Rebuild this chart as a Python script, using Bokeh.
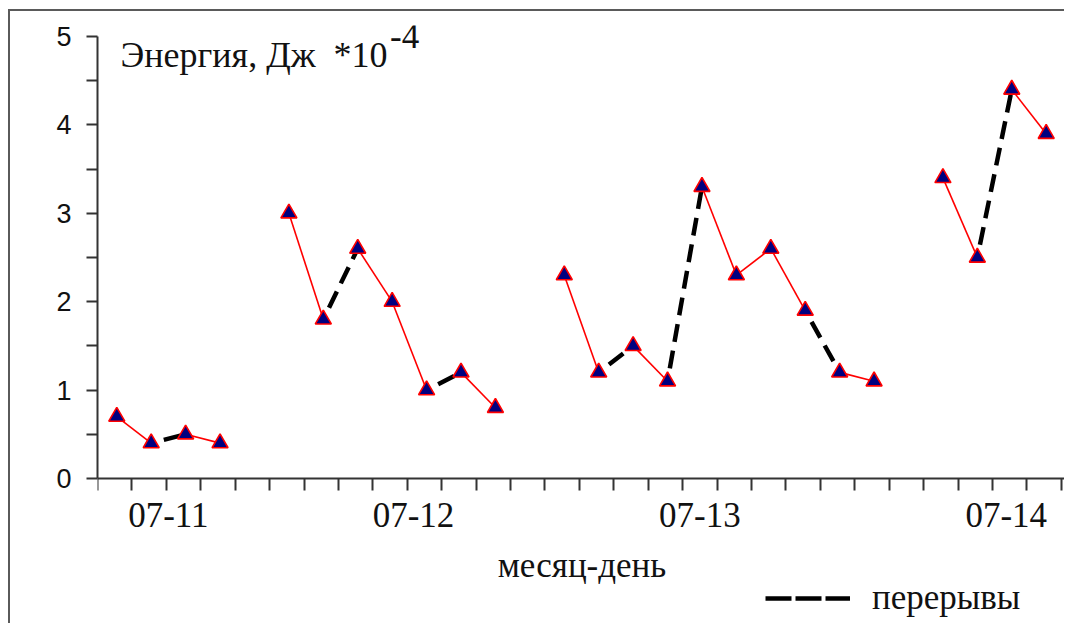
from bokeh.plotting import figure
from bokeh.models import (Range1d, FixedTicker, Label, Legend, LegendItem,
                          ColumnDataSource)
from bokeh.embed import file_html
from bokeh.resources import INLINE

# ---------------- data ----------------
# hourly slot index (tick intervals along the x axis) for each measurement
slots_g1 = [0, 1, 2, 3]
slots_g2 = [5, 6, 7, 8, 9, 10, 11]
slots_g3 = [13, 14, 15, 16, 17, 18, 19, 20, 21, 22]
slots_g4 = [24, 25, 26, 27]

energy_g1 = [0.7, 0.4, 0.5, 0.4]
energy_g2 = [3.0, 1.8, 2.6, 2.0, 1.0, 1.2, 0.8]
energy_g3 = [2.3, 1.2, 1.5, 1.1, 3.3, 2.3, 2.6, 1.9, 1.2, 1.1]
energy_g4 = [3.4, 2.5, 4.4, 3.9]

# link type between consecutive points: "r" = continuous, "b" = break (перерыв)
links_g1 = ["r", "b", "r"]
links_g2 = ["r", "b", "r", "r", "b", "r"]
links_g3 = ["r", "b", "r", "b", "r", "r", "r", "b", "r"]
links_g4 = ["r", "b", "r"]

date_labels = ["07-11", "07-12", "07-13", "07-14"]
date_label_pos = [2.06, 9.18, 17.5, 26.4]

y_ticks = [0, 1, 2, 3, 4, 5]
y_minor = [0.5, 1.5, 2.5, 3.5, 4.5]

title_text = "Энергия, Дж\u00a0 *10"
title_sup = "-4"
x_title = "месяц-день"
legend_text = "перерывы"

# ---------------- build ----------------
OFF = 0.56
groups = [(slots_g1, energy_g1, links_g1), (slots_g2, energy_g2, links_g2),
          (slots_g3, energy_g3, links_g3), (slots_g4, energy_g4, links_g4)]

px, py = [], []
red = dict(x0=[], y0=[], x1=[], y1=[])
blk = dict(x0=[], y0=[], x1=[], y1=[])
for s, e, l in groups:
    xs = [v + OFF for v in s]
    px += xs
    py += e
    for i, t in enumerate(l):
        d = red if t == "r" else blk
        d["x0"].append(xs[i]); d["y0"].append(e[i])
        d["x1"].append(xs[i + 1]); d["y1"].append(e[i + 1])

W, H = 1056, 614
p = figure(width=W, height=H, output_backend="svg", toolbar_location=None,
           x_range=Range1d(0, 28.15), y_range=Range1d(-1.663, 5.124),
           min_border_left=87, min_border_right=0, min_border_top=14,
           min_border_bottom=0,
           styles={"margin-left": "8px", "margin-top": "9px",
                   "border-left": "2px solid #5a5a5a",
                   "border-top": "2px solid #5a5a5a"})
p.outline_line_color = None
p.xgrid.visible = False
p.ygrid.visible = False
p.background_fill_color = "white"
p.border_fill_color = "white"

serif = "Liberation Serif"

# y axis
ya = p.yaxis[0]
ya.bounds = (0, 5)
ya.ticker = FixedTicker(ticks=y_ticks, minor_ticks=y_minor)
ya.axis_line_width = 2
ya.axis_line_color = "#333333"
ya.major_tick_line_width = 2
ya.minor_tick_line_width = 2
ya.major_tick_line_color = "#333333"
ya.minor_tick_line_color = "#333333"
ya.major_tick_out = 11
ya.major_tick_in = 0
ya.minor_tick_out = 11
ya.minor_tick_in = 0
ya.major_label_text_font = "Liberation Sans"
ya.major_label_text_font_size = "27px"
ya.major_label_text_color = "#111111"
ya.major_label_standoff = 15

# x axis (drawn at y = 0)
xa = p.xaxis[0]
xa.fixed_location = 0
xa.ticker = FixedTicker(ticks=date_label_pos, minor_ticks=list(range(0, 29)))
xa.major_label_overrides = {pos: lab for pos, lab in zip(date_label_pos, date_labels)}
xa.axis_line_width = 2
xa.axis_line_color = "#333333"
xa.major_tick_out = 0
xa.major_tick_in = 0
xa.minor_tick_out = 12
xa.minor_tick_in = 0
xa.minor_tick_line_width = 2
xa.minor_tick_line_color = "#333333"
xa.major_label_text_font = serif
xa.major_label_text_font_size = "35px"
xa.major_label_text_color = "#111111"
xa.major_label_standoff = 13
xa.axis_label = x_title
xa.axis_label_text_font = serif
xa.axis_label_text_font_style = "normal"
xa.axis_label_text_font_size = "35px"
xa.axis_label_text_color = "#111111"
xa.axis_label_standoff = 15

# lines
p.segment(x0="x0", y0="y0", x1="x1", y1="y1", source=ColumnDataSource(red),
          line_color="#ff0000", line_width=1.6)
p.segment(x0="x0", y0="y0", x1="x1", y1="y1", source=ColumnDataSource(blk),
          line_color="black", line_width=4.5, line_dash="18 9",
          line_dash_offset=14)
p.scatter(px, py, marker="triangle", size=16, fill_color="#000080",
          line_color="#ff0000", line_width=1.6)

# legend sample line (style of the break segments; NaN data -> nothing drawn in plot)
nan = float("nan")
leg_r = p.segment(x0=[nan], y0=[nan], x1=[nan], y1=[nan], line_color="black",
                  line_width=4.5, line_dash="26 4")

# title in the plot
p.add_layout(Label(x=0.67, y=4.79, text=title_text, text_font=serif,
                   text_font_size="36px", text_color="#111111",
                   text_baseline="alphabetic"))
p.add_layout(Label(x=8.5, y=5.0, text=title_sup, text_font=serif,
                   text_font_size="35px", text_color="#111111",
                   text_baseline="alphabetic"))

legend = Legend(items=[LegendItem(label=legend_text, renderers=[leg_r])],
                location=(668, 7), background_fill_alpha=0,
                border_line_color=None, padding=0, margin=0,
                glyph_width=85, glyph_height=24, label_standoff=22,
                label_text_font=serif, label_text_font_size="35px",
                label_text_color="#111111")
p.add_layout(legend)

open("out.html", "w").write(file_html(p, INLINE))
